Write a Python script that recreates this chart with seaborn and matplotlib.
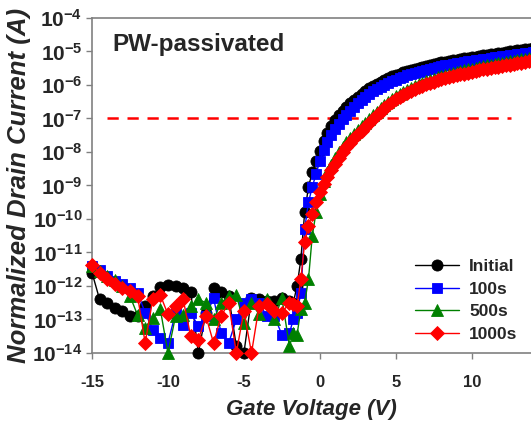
import numpy as np
import pandas as pd
import matplotlib
matplotlib.use("Agg")
import matplotlib.pyplot as plt
import seaborn as sns

# ---------------- data (log10 of normalized drain current) ----------------
# off-state region sampled every 0.5 V, turn-on / on-state region every 0.25 V
gate_off = [-15.0, -14.5, -14.0, -13.5, -13.0, -12.5, -12.0, -11.5, -11.0, -10.5,
            -10.0, -9.5, -9.0, -8.5, -8.0, -7.5, -7.0, -6.5, -6.0, -5.5,
            -5.0, -4.5, -4.0, -3.5, -3.0, -2.5, -2.0]
gate_fine = [round(v, 2) for v in np.arange(-1.75, 14.01, 0.25)]
gate_voltage = gate_off + gate_fine

log_initial = [-11.6, -12.4, -12.5, -12.65, -12.75, -12.9, -12.9, -12.6, -12.3, -12.03,
               -11.97, -12.0, -12.06, -12.18, -14.0, -12.8, -12.06, -12.18, -12.3, -13.8,
               -14.0, -12.36, -12.4, -12.45, -12.45, -12.35, -12.45,
               -12.5, -12.0, -11.2, -9.8, -9.05, -8.6, -8.28, -7.97, -7.67, -7.43, -7.22, -7.04,
               -6.9, -6.78, -6.66, -6.55, -6.45, -6.35, -6.26, -6.17, -6.09, -6.02, -5.96, -5.9,
               -5.84, -5.79, -5.74, -5.7, -5.66, -5.62, -5.58, -5.55, -5.51, -5.48, -5.45, -5.42,
               -5.39, -5.37, -5.34, -5.32, -5.3, -5.28, -5.26, -5.24, -5.22, -5.2, -5.18, -5.17,
               -5.15, -5.13, -5.11, -5.1, -5.08, -5.06, -5.04, -5.03, -5.01, -5.0, -4.98, -4.97,
               -4.95, -4.94, -4.92, -4.91]
log_100s = [-11.4, -11.52, -11.7, -11.85, -11.95, -12.05, -12.2, -12.8, -13.3, -13.55,
            -13.7, -12.8, -13.15, -12.8, -13.2, -12.9, -12.36, -13.4, -13.7, -13.0,
            -12.5, -12.4, -12.5, -12.9, -12.9, -13.45, -13.4,
            -13.0, -12.8, -12.2, -10.3, -9.5, -9.05, -8.65, -8.27, -7.95, -7.7, -7.48, -7.3,
            -7.15, -7.02, -6.89, -6.77, -6.65, -6.54, -6.44, -6.35, -6.26, -6.18, -6.11, -6.05,
            -5.99, -5.94, -5.89, -5.84, -5.79, -5.75, -5.71, -5.67, -5.63, -5.6, -5.57, -5.54,
            -5.51, -5.48, -5.45, -5.43, -5.41, -5.39, -5.37, -5.35, -5.33, -5.31, -5.29, -5.28,
            -5.26, -5.24, -5.22, -5.21, -5.19, -5.17, -5.15, -5.14, -5.12, -5.11, -5.09, -5.08,
            -5.06, -5.05, -5.03, -5.02]
log_500s = [-11.4, -11.55, -11.7, -11.82, -12.0, -12.3, -12.87, -13.25, -12.95, -12.7,
            -14.0, -12.9, -12.87, -12.6, -12.4, -12.5, -13.0, -12.5, -12.3, -12.27,
            -13.1, -12.5, -12.85, -12.4, -13.0, -12.36, -13.8,
            -13.4, -13.45, -12.7, -12.5, -11.8, -10.5, -9.8, -9.25, -8.88, -8.6, -8.38, -8.18,
            -8.01, -7.85, -7.71, -7.58, -7.46, -7.35, -7.23, -7.12, -7.01, -6.9, -6.8, -6.7,
            -6.6, -6.51, -6.42, -6.34, -6.27, -6.2, -6.14, -6.08, -6.03, -5.98, -5.93, -5.89,
            -5.85, -5.81, -5.77, -5.74, -5.7, -5.67, -5.64, -5.61, -5.58, -5.56, -5.53, -5.51,
            -5.48, -5.46, -5.43, -5.41, -5.39, -5.37, -5.35, -5.33, -5.31, -5.29, -5.27, -5.25,
            -5.23, -5.21, -5.19, -5.17]
log_1000s = [-11.37, -11.6, -11.8, -11.95, -12.05, -12.15, -12.3, -13.7, -12.4, -12.27,
             -12.85, -12.6, -12.4, -13.5, -13.6, -12.9, -13.7, -12.9, -12.5, -14.0,
             -12.75, -14.0, -12.6, -12.55, -12.75, -12.8, -12.5,
             -12.55, -12.6, -11.8, -10.7, -10.2, -9.85, -9.5, -9.2, -8.95, -8.75, -8.55, -8.35,
             -8.17, -8.0, -7.86, -7.72, -7.59, -7.47, -7.36, -7.25, -7.13, -7.02, -6.91, -6.8,
             -6.7, -6.6, -6.51, -6.43, -6.36, -6.29, -6.23, -6.17, -6.12, -6.07, -6.02, -5.98,
             -5.94, -5.9, -5.86, -5.83, -5.8, -5.77, -5.74, -5.71, -5.68, -5.66, -5.63, -5.61,
             -5.58, -5.56, -5.53, -5.51, -5.49, -5.47, -5.45, -5.43, -5.41, -5.39, -5.37, -5.35,
             -5.33, -5.31, -5.29, -5.27]

series_names = ["Initial", "100s", "500s", "1000s"]
series_logs = [log_initial, log_100s, log_500s, log_1000s]
series_colors = ["#000000", "#0000FF", "#008000", "#FF0000"]
series_markers = ["o", "s", "^", "D"]
marker_sizes = [8.0, 7.0, 8.0, 7.0]

x_ticks = [-15, -10, -5, 0, 5, 10]
y_exponents = [-14, -13, -12, -11, -10, -9, -8, -7, -6, -5, -4]
threshold_current = 1e-7
title_text = "PW-passivated"

# ---------------- plotting ----------------
sns.set_style("ticks")
plt.rcParams["font.family"] = ["Liberation Sans", "DejaVu Sans"]
plt.rcParams["font.weight"] = "bold"
plt.rcParams["mathtext.fontset"] = "custom"
plt.rcParams["mathtext.rm"] = "Liberation Sans:bold"
plt.rcParams["mathtext.bf"] = "Liberation Sans:bold"
plt.rcParams["mathtext.it"] = "Liberation Sans:bold:italic"

fig = plt.figure(figsize=(5.31, 4.26), dpi=100)
ax = fig.add_axes([92 / 531, 1 - 353 / 426, 1 - 92 / 531, (353 - 18) / 426])

for name, logs, col, mk, ms in zip(series_names, series_logs, series_colors,
                                   series_markers, marker_sizes):
    n = min(len(gate_voltage), len(logs))
    df = pd.DataFrame({"V": gate_voltage[:n], "I": np.power(10.0, logs[:n])})
    sns.lineplot(data=df, x="V", y="I", ax=ax, color=col, marker=mk,
                 markersize=ms, markeredgecolor=col, markeredgewidth=0.6,
                 linewidth=1.0, label=name, clip_on=False, zorder=3)

ax.axhline(threshold_current, xmin=0.035, xmax=0.955, color="#FF0000",
           linestyle=(0, (4.5, 3.5)), linewidth=1.8, zorder=2)

ax.set_yscale("log")
ax.set_xlim(-15, 13.9)
ax.set_ylim(1e-14, 1e-4)
ax.set_xticks(x_ticks)
ax.set_xticklabels([str(t) for t in x_ticks], fontsize=12, fontweight="bold")
ax.set_yticks([10.0 ** e for e in y_exponents])
ax.set_yticklabels([r"$\mathbf{10^{%d}}$" % e for e in y_exponents], fontsize=15)
ax.yaxis.set_minor_locator(matplotlib.ticker.NullLocator())

for s in ["left", "bottom", "top"]:
    ax.spines[s].set_color("#808080")
    ax.spines[s].set_linewidth(1.2)
ax.spines["right"].set_visible(False)
ax.tick_params(axis="both", which="major", direction="out", length=4,
               width=1.0, color="#808080")
ax.tick_params(axis="x", pad=11.5)
ax.tick_params(axis="y", pad=3)

ax.set_xlabel("Gate Voltage (V)", fontsize=16, fontweight="bold", style="italic",
              labelpad=7)
ax.set_ylabel("Normalized Drain Current (A)", fontsize=18.5, fontweight="bold",
              style="italic", labelpad=1)

ax.text(0.047, 0.92, title_text, transform=ax.transAxes, fontsize=17.5,
        fontweight="bold", va="center", ha="left")

leg = ax.legend(loc="lower right", bbox_to_anchor=(0.995, 0.0), frameon=False,
                fontsize=12.5, handlelength=2.5, handletextpad=0.6,
                labelspacing=0.42, borderaxespad=0.25)
for t in leg.get_texts():
    t.set_fontweight("bold")

fig.savefig("out.png", dpi=100)
